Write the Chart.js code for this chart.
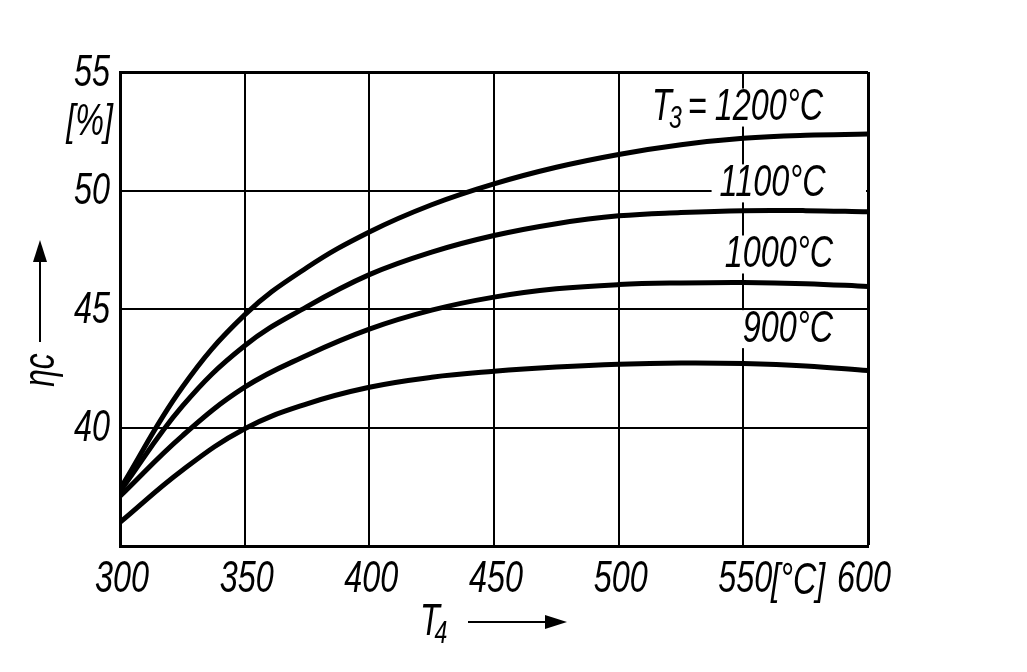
<!DOCTYPE html>
<html><head><meta charset="utf-8">
<script src="https://cdn.jsdelivr.net/npm/chart.js@4.4.0/dist/chart.umd.min.js"></script>
<style>html,body{margin:0;padding:0;background:#fff;}canvas{display:block;}</style>
</head><body>
<canvas id="c" width="1027" height="672"></canvas>
<script>
// ---- data ----
const T4 = [300, 325, 350, 375, 400, 425, 450, 475, 500, 525, 550, 575, 600];
const eta1200 = [37.4, 41.7, 44.75, 46.75, 48.25, 49.4, 50.28, 50.98, 51.52, 51.93, 52.2, 52.33, 52.38];
const eta1100 = [37.3, 40.9, 43.45, 45.1, 46.45, 47.4, 48.1, 48.6, 48.93, 49.07, 49.15, 49.15, 49.1];
const eta1000 = [37.1, 39.65, 41.7, 43.05, 44.15, 44.95, 45.5, 45.85, 46.03, 46.1, 46.12, 46.07, 45.95];
const eta900 = [36.0, 38.2, 39.95, 41.0, 41.7, 42.12, 42.37, 42.55, 42.67, 42.72, 42.7, 42.6, 42.4];
const xTickLabels = ['300', '350', '400', '450', '500', '550', '600'];
const yTickLabels = ['40', '45', '50', '55'];
const seriesNames = ['1200°C', '1100°C', '1000°C', '900°C'];
const xUnit = '[°C]';
const yUnit = '[%]';

const FONT = '"Liberation Sans", "DejaVu Sans", sans-serif';
const SX = 0.72;

function txt(ctx, s, x, y, size, align) {
  ctx.save();
  ctx.font = 'italic ' + size + 'px ' + FONT;
  ctx.translate(x, y);
  ctx.scale(SX, 1);
  ctx.textAlign = align;
  ctx.textBaseline = 'middle';
  ctx.fillStyle = '#000';
  ctx.fillText(s, 0, 0);
  ctx.restore();
}
function tw(ctx, s, size) {
  ctx.save();
  ctx.font = 'italic ' + size + 'px ' + FONT;
  const w = ctx.measureText(s).width * SX;
  ctx.restore();
  return w;
}
function arrow(ctx, x1, y1, x2, y2) {
  const a = Math.atan2(y2 - y1, x2 - x1);
  const L = 22, H = 7;
  ctx.save();
  ctx.strokeStyle = '#000'; ctx.fillStyle = '#000'; ctx.lineWidth = 2;
  ctx.beginPath(); ctx.moveTo(x1, y1);
  ctx.lineTo(x2 - L * Math.cos(a), y2 - L * Math.sin(a)); ctx.stroke();
  ctx.beginPath();
  ctx.moveTo(x2, y2);
  ctx.lineTo(x2 - L * Math.cos(a) - H * Math.sin(a), y2 - L * Math.sin(a) + H * Math.cos(a));
  ctx.lineTo(x2 - L * Math.cos(a) + H * Math.sin(a), y2 - L * Math.sin(a) - H * Math.cos(a));
  ctx.closePath(); ctx.fill();
  ctx.restore();
}

const toPts = arr => arr.map((v, i) => ({ x: T4[i], y: v }));

const labelPlugin = {
  id: 'labels',
  beforeDatasetsDraw(chart) {
    const ctx = chart.ctx;
    const xs = chart.scales.x, ys = chart.scales.y;
    const size = 45;
    const anchors = [[582, 53.5], [583, 50.3], [586, 47.3], [586, 44.15]];
    seriesNames.forEach((name, i) => {
      const rx = xs.getPixelForValue(anchors[i][0]);
      const cy = ys.getPixelForValue(anchors[i][1]);
      const w = tw(ctx, name, size);
      let left = rx - w;
      if (i === 0) left -= tw(ctx, '=', size) + 40;
      ctx.save();
      ctx.fillStyle = '#fff';
      ctx.fillRect(left - 8, cy - 19, (i === 1 ? chart.chartArea.right - 2 : rx + 6) - (left - 8), 38);
      ctx.restore();
      txt(ctx, name, rx, cy, size, 'right');
      if (i === 0) {
        const eqx = rx - w - 8;
        txt(ctx, '=', eqx, cy, size, 'right');
        const ew = tw(ctx, '=', size);
        txt(ctx, '3', eqx - ew - 6, cy + 12, 32, 'right');
        txt(ctx, 'T', eqx - ew - 16, cy, size, 'right');
      }
    });
  },
  afterDraw(chart) {
    const ctx = chart.ctx;
    const xs = chart.scales.x, ys = chart.scales.y;
    const size = 45;
    const ty = chart.chartArea.bottom + 33;
    xTickLabels.forEach(l => {
      let px = xs.getPixelForValue(+l);
      if (+l === 600) px -= 6;
      txt(ctx, l, px + 2, ty, size, 'center');
    });
    txt(ctx, xUnit, xs.getPixelForValue(572), ty + 2, size, 'center');
    yTickLabels.forEach(l => {
      txt(ctx, l, chart.chartArea.left - 10, ys.getPixelForValue(+l) + 1, size, 'right');
    });
    txt(ctx, yUnit, chart.chartArea.left - 7, ys.getPixelForValue(52.85), size, 'right');
    // x axis title T4 with arrow
    txt(ctx, 'T', 430, 622, size, 'center');
    txt(ctx, '4', 441, 634, 32, 'center');
    arrow(ctx, 468, 622, 567, 622);
    // y axis title ηc with arrow
    ctx.save();
    ctx.translate(42, 370);
    ctx.rotate(-Math.PI / 2);
    ctx.font = 'italic 44px ' + FONT;
    ctx.textAlign = 'center'; ctx.textBaseline = 'middle'; ctx.fillStyle = '#000';
    ctx.save(); ctx.scale(SX, 1); ctx.fillText('ηc', 0, 0); ctx.restore();
    ctx.restore();
    arrow(ctx, 40, 342, 40, 240);
  }
};

const ds = (data) => ({
  data: toPts(data), borderColor: '#000', borderWidth: 5, pointRadius: 0,
  tension: 0.4, fill: false, borderCapStyle: 'butt'
});

new Chart(document.getElementById('c'), {
  type: 'line',
  data: { datasets: [ds(eta1200), ds(eta1100), ds(eta1000), ds(eta900)] },
  options: {
    responsive: false, animation: false, devicePixelRatio: 1,
    layout: { padding: { left: 120, right: 159, top: 72, bottom: 126 } },
    plugins: { legend: { display: false }, tooltip: { enabled: false } },
    scales: {
      x: {
        type: 'linear', min: 300, max: 600,
        ticks: { stepSize: 50, display: false },
        grid: { color: '#000', lineWidth: c => (c.tick && c.tick.value === 600 ? 3 : 2), drawTicks: false },
        border: { display: true, color: '#000', width: 3 }
      },
      y: {
        type: 'linear', min: 35, max: 55,
        ticks: { stepSize: 5, display: false },
        grid: { color: '#000', lineWidth: c => (c.tick && c.tick.value === 55 ? 3 : 2), drawTicks: false },
        border: { display: true, color: '#000', width: 3 }
      }
    }
  },
  plugins: [labelPlugin]
});
</script>
</body></html>
